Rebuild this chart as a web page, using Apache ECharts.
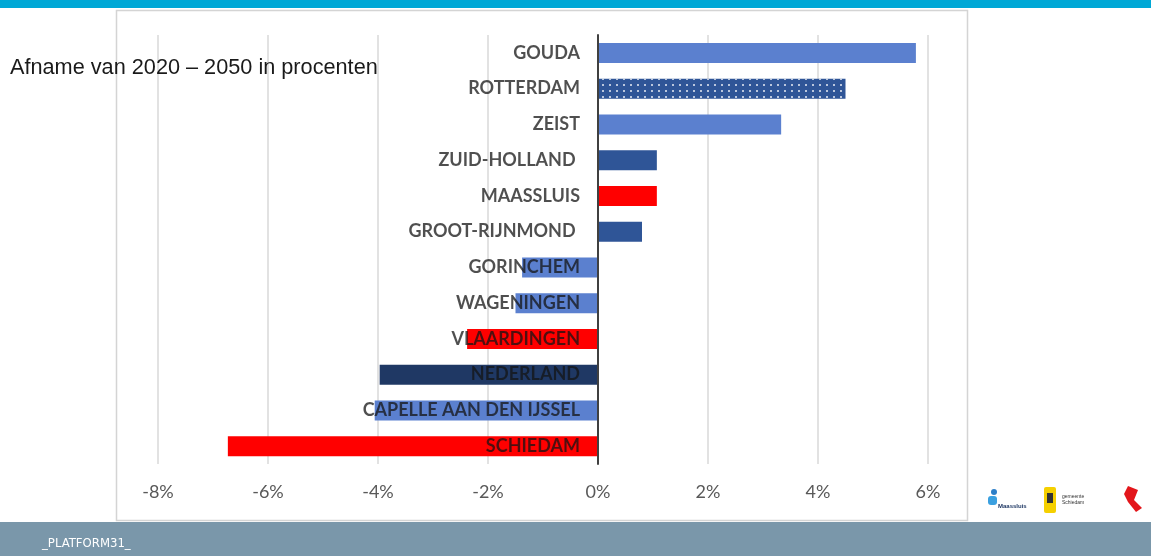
<!DOCTYPE html>
<html>
<head>
<meta charset="utf-8">
<script src="https://cdn.jsdelivr.net/npm/echarts@6/dist/echarts.min.js"></script>
<style>
  html, body { margin: 0; padding: 0; background: #fff; }
  #main { width: 1151px; height: 556px; }
</style>
</head>
<body>
<div id="main"></div>
<script>
// gemeentes, van boven naar beneden
let categories = [
  "GOUDA", "ROTTERDAM", "ZEIST", "ZUID-HOLLAND ", "MAASSLUIS", "GROOT-RIJNMOND ",
  "GORINCHEM", "WAGENINGEN", "VLAARDINGEN", "NEDERLAND", "CAPELLE AAN DEN IJSSEL", "SCHIEDAM"
];
// afname 2020-2050 in %
let values = [5.78, 4.5, 3.33, 1.07, 1.07, 0.8, -1.38, -1.5, -2.38, -3.97, -4.06, -6.73];
let barColors = [
  "#5b80cf", "#2f5597", "#5b80cf", "#2f5597", "#ff0000", "#2f5597",
  "#5b80cf", "#5b80cf", "#ff0000", "#1f3864", "#5b80cf", "#ff0000"
];
let xTicks = [-8, -6, -4, -2, 0, 2, 4, 6];

let myChart = document.getElementById("main");
let initChart = echarts.init(myChart, null, { renderer: "canvas" });

let seriesData = values.map((v, i) => {
  let item = { value: v, itemStyle: { color: barColors[i] } };
  // rotterdam heeft stippen
  if (categories[i] == "ROTTERDAM") {
    item.itemStyle.decal = {
      symbol: "circle",
      symbolSize: 1,
      color: "rgba(255,255,255,0.9)",
      dashArrayX: [2, 5],
      dashArrayY: [2, 4],
    };
  }
  return item;
});

let option = {
  backgroundColor: "#fff",
  animation: false,
  graphic: [
    // slide achtergrond
    { type: "rect", z: -10, shape: { x: 0, y: 0, width: 1151, height: 8 }, style: { fill: "#00a8d6" } },
    { type: "rect", z: -10, shape: { x: 116.5, y: 10.5, width: 851, height: 510 }, style: { fill: "#fff", stroke: "#d4d4d4", lineWidth: 1.5 } },
    { type: "rect", z: -10, shape: { x: 0, y: 522, width: 1151, height: 34 }, style: { fill: "#7a97aa" } },
    { type: "text", left: 42, top: 537, style: { text: "_PLATFORM31_", fill: "#fff", font: "13px 'Liberation Sans Narrow', 'DejaVu Sans Condensed', sans-serif" } },
    // titel
    { type: "text", left: 10, top: 57, z: 50, style: { text: "Afname van 2020 \u2013 2050 in procenten", fill: "#1a1a1a", font: "21.7px 'Liberation Sans', Arial, sans-serif" } },
    // logo's (benadering)
    { type: "circle", shape: { cx: 994, cy: 492, r: 3 }, style: { fill: "#2c7fc8" } },
    { type: "rect", shape: { x: 988, y: 496, width: 9, height: 9, r: 3 }, style: { fill: "#3aa0e0" } },
    { type: "text", left: 998, top: 503, style: { text: "Maassluis", fill: "#1f3864", font: "bold 6px sans-serif" } },
    { type: "rect", shape: { x: 1044, y: 487, width: 12, height: 26, r: 2 }, style: { fill: "#f5d000" } },
    { type: "rect", shape: { x: 1047, y: 493, width: 6, height: 10 }, style: { fill: "#333" } },
    { type: "text", left: 1062, top: 494, style: { text: "gemeente\nSchiedam", fill: "#333", font: "5px sans-serif", lineHeight: 6 } },
    { type: "polygon", shape: { points: [[1128, 486], [1138, 490], [1134, 500], [1142, 508], [1136, 512], [1128, 502], [1124, 494]] }, style: { fill: "#e3161b" } },
  ],
  grid: { left: 158, right: 223, top: 35, bottom: 92, outerBoundsMode: "none" },
  xAxis: {
    type: "value",
    min: -8,
    max: 6,
    interval: 2,
    axisLine: { show: false },
    axisTick: { show: false },
    splitLine: { lineStyle: { color: "#d9d9d9", width: 1.5 } },
    axisLabel: {
      margin: 19,
      color: "#595959",
      fontSize: 18,
      fontFamily: "Lato, 'Open Sans', sans-serif",
      customValues: xTicks,
      formatter: (v) => v + "%",
    },
  },
  yAxis: {
    type: "category",
    inverse: true,
    data: categories,
    z: 10,
    axisLine: { onZero: true, lineStyle: { color: "#404040", width: 2 } },
    axisTick: { show: false },
    axisLabel: {
      // labels naast de nul-lijn
      margin: -422,
      color: "rgba(20,20,20,0.75)",
      fontSize: 18,
      fontWeight: "bold",
      fontFamily: "Lato, 'Open Sans', sans-serif",
    },
  },
  series: [
    {
      type: "bar",
      barWidth: 20,
      data: seriesData,
    },
  ],
};

initChart.setOption(option);
</script>
</body>
</html>
